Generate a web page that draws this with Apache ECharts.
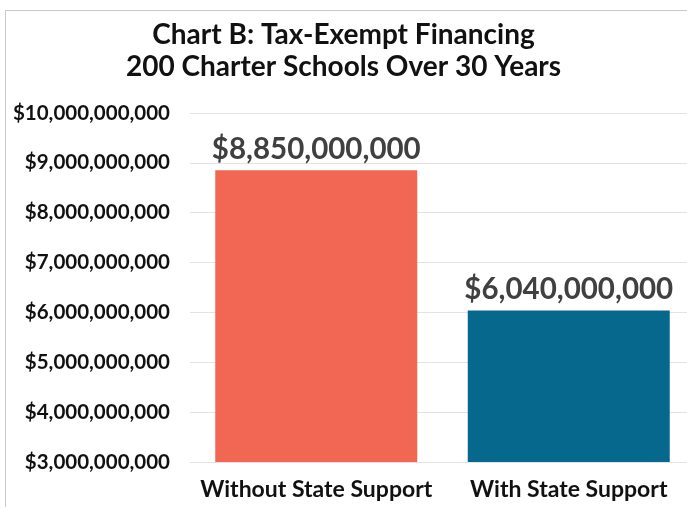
<!DOCTYPE html>
<html>
<head>
<meta charset="UTF-8">
<title>Chart B</title>
<style>
  html, body { margin: 0; padding: 0; background: #fff; }
  #chart { width: 687px; height: 507px; }
</style>
<script src="https://cdn.jsdelivr.net/npm/echarts@6/dist/echarts.min.js"></script>
</head>
<body>
<div id="chart"></div>
<script>
var titleLines = ['Chart B: Tax-Exempt Financing', '200 Charter Schools Over 30 Years'];
var categories = ['Without State Support', 'With State Support'];
var values = [8850000000, 6040000000];
var barColors = ['#F26654', '#07688D'];
var yMin = 3000000000, yMax = 10000000000, yStep = 1000000000;

function money(v) {
    return '$' + Number(v).toLocaleString('en-US');
}

var chart = echarts.init(document.getElementById('chart'));
var font = 'Lato';

var option = {
    animation: false,
    title: {
        text: titleLines.join('\n'),
        left: 'center',
        top: 14,
        textStyle: { fontFamily: font, fontSize: 28, fontWeight: 'bold', color: '#111', lineHeight: 32 }
    },
    graphic: [{
        type: 'rect',
        shape: { x: 5.5, y: 10.5, width: 700, height: 520 },
        style: { fill: 'none', stroke: '#c8c8c8', lineWidth: 1 },
        z: -1
    }],
    grid: { left: 190, right: -8, top: 113, bottom: 45, outerBoundsMode: 'none', containLabel: false },
    xAxis: {
        type: 'category',
        data: categories,
        axisLine: { show: false },
        axisTick: { show: false },
        axisLabel: { interval: 0, fontFamily: font, fontSize: 23, color: '#111', margin: 16, fontWeight: 'bold' }
    },
    yAxis: {
        type: 'value',
        min: yMin, max: yMax, interval: yStep,
        axisLine: { show: false },
        axisTick: { show: false },
        splitLine: { lineStyle: { color: '#e3e3e3' } },
        axisLabel: { formatter: money, fontFamily: font, fontSize: 20.5, fontWeight: 'bold', color: '#111', margin: 20 }
    },
    series: [{
        type: 'bar',
        data: values.map(function (v, i) { return { value: v, itemStyle: { color: barColors[i] } }; }),
        barWidth: '80%',
        label: {
            show: true,
            position: 'top',
            distance: 6,
            formatter: function (p) { return money(p.value); },
            fontFamily: font, fontSize: 29.5, fontWeight: 'bold', color: '#404040'
        }
    }]
};

chart.setOption(option);
</script>
</body>
</html>
